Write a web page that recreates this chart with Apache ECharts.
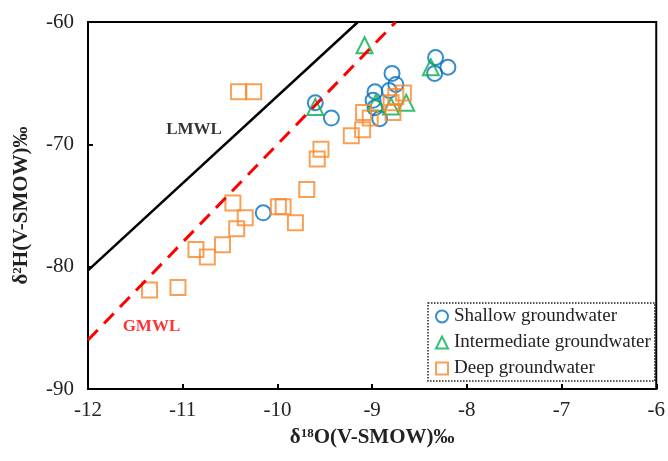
<!DOCTYPE html>
<html><head><meta charset="utf-8">
<script src="https://cdn.jsdelivr.net/npm/echarts@6/dist/echarts.min.js"></script>
<style>html,body{margin:0;padding:0;background:#fff}#c{width:668px;height:461px}</style>
</head><body><div id="c"></div>
<script>
var shallowX = [-8.33, -8.20, -8.34, -8.79, -8.75, -8.97, -8.82, -8.99, -8.97, -8.92, -9.60, -9.43, -10.15];
var shallowY = [-62.9, -63.7, -64.2, -64.2, -65.1, -65.7, -65.6, -66.4, -67.0, -67.9, -66.6, -67.85, -75.6];
var interX = [-9.08, -8.38, -9.60, -8.96, -8.80, -8.64];
var interY = [-61.9, -63.7, -66.95, -66.6, -66.9, -66.6];
var deepX = [-10.41, -10.25, -9.54, -9.58, -9.22, -9.10, -9.09, -9.02, -8.80, -8.75, -8.67, -8.78, -9.69, -9.99, -9.94, -9.81, -10.47, -10.34, -10.43, -10.58, -10.86, -10.74, -11.05, -11.35];
var deepY = [-65.7, -65.7, -70.4, -71.2, -69.3, -68.8, -67.4, -67.85, -66.6, -66.1, -65.8, -67.4, -73.7, -75.1, -75.1, -76.4, -74.8, -76.0, -76.9, -78.2, -78.6, -79.2, -81.7, -81.9];
var lmwlX = [-12, -9.15];
var lmwlY = [-80.3, -60];
var gmwlX = [-12, -8.75];
var gmwlY = [-86, -60];
var lineLabels = ['LMWL', 'GMWL'];
var lineLabelX = [-10.88, -11.33];
var lineLabelY = [-68.8, -84.9];
var xTicks = [-12, -11, -10, -9, -8, -7, -6];
var yTicks = [-90, -80, -70, -60];
var seriesNames = ['Shallow groundwater', 'Intermediate groundwater', 'Deep groundwater'];

function zip(a, b) { return a.map(function (v, i) { return [v, b[i]]; }); }
var serif = "'Times New Roman','Liberation Serif',serif";
var chart = echarts.init(document.getElementById('c'));
var ptStyle = function (c) { return { color: 'rgba(255,255,255,0)', borderColor: c, borderWidth: 2 }; };
function nameRich() {
  return { rich: {
    b: { fontFamily: serif, fontSize: 21, fontWeight: 'bold', color: '#222' },
    sup: { fontFamily: serif, fontSize: 13, fontWeight: 'bold', color: '#222', verticalAlign: 'top', padding: [0, 0, 8, 0] } } };
}
function lineLabel(i, color) {
  return { type: 'scatter', symbolSize: 0, silent: true, data: [[lineLabelX[i], lineLabelY[i]]],
    label: { show: true, position: 'inside', formatter: lineLabels[i], fontFamily: serif, fontSize: 17, fontWeight: 'bold', color: color } };
}
chart.setOption({
  animation: false,
  grid: { left: 88, right: 8, top: 22, bottom: 72, show: true, borderColor: '#000', borderWidth: 2 },
  xAxis: {
    type: 'value', min: xTicks[0], max: xTicks[xTicks.length - 1], interval: 1,
    splitLine: { show: false },
    axisLine: { lineStyle: { color: '#000', width: 2 } },
    axisTick: { inside: true, length: 5, lineStyle: { color: '#000', width: 2 } },
    axisLabel: { color: '#222', fontFamily: serif, fontSize: 21, margin: 11 },
    name: '{b|δ}{sup|18}{b|O(V-SMOW)‰}', nameLocation: 'middle', nameGap: 38,
    nameTextStyle: nameRich()
  },
  yAxis: {
    type: 'value', min: yTicks[0], max: yTicks[yTicks.length - 1], interval: 10,
    splitLine: { show: false },
    axisLine: { lineStyle: { color: '#000', width: 2 } },
    axisTick: { inside: true, length: 5, lineStyle: { color: '#000', width: 2 } },
    axisLabel: { color: '#222', fontFamily: serif, fontSize: 21, margin: 14 },
    name: '{b|δ}{sup|2}{b|H(V-SMOW)‰}', nameLocation: 'middle', nameGap: 56, nameRotate: 90,
    nameTextStyle: nameRich()
  },
  legend: {
    data: seriesNames, orient: 'vertical', left: 428, top: 303,
    padding: [3, 4, 2, 7], itemGap: 5, itemWidth: 12, itemHeight: 12,
    borderColor: '#222', borderWidth: 1.5, borderType: 'dotted',
    textStyle: { fontFamily: serif, fontSize: 19, lineHeight: 21, color: '#222', padding: [0, 0, 0, 1] }
  },
  series: [
    { type: 'line', data: zip(lmwlX, lmwlY), symbol: 'none', silent: true,
      lineStyle: { color: '#000', width: 2.5 } },
    { type: 'line', data: zip(gmwlX, gmwlY), symbol: 'none', silent: true,
      lineStyle: { color: '#ff0000', width: 3, type: [14, 9] } },
    lineLabel(0, '#000'),
    lineLabel(1, '#ff0000'),
    { name: seriesNames[0], type: 'scatter', symbol: 'circle', symbolSize: 15, data: zip(shallowX, shallowY), itemStyle: ptStyle('#0070C0') },
    { name: seriesNames[1], type: 'scatter', symbol: 'triangle', symbolSize: 16, data: zip(interX, interY), itemStyle: ptStyle('#00B050') },
    { name: seriesNames[2], type: 'scatter', symbol: 'rect', symbolSize: 15, data: zip(deepX, deepY), itemStyle: ptStyle('#F58A2E') }
  ]
});
</script></body></html>
